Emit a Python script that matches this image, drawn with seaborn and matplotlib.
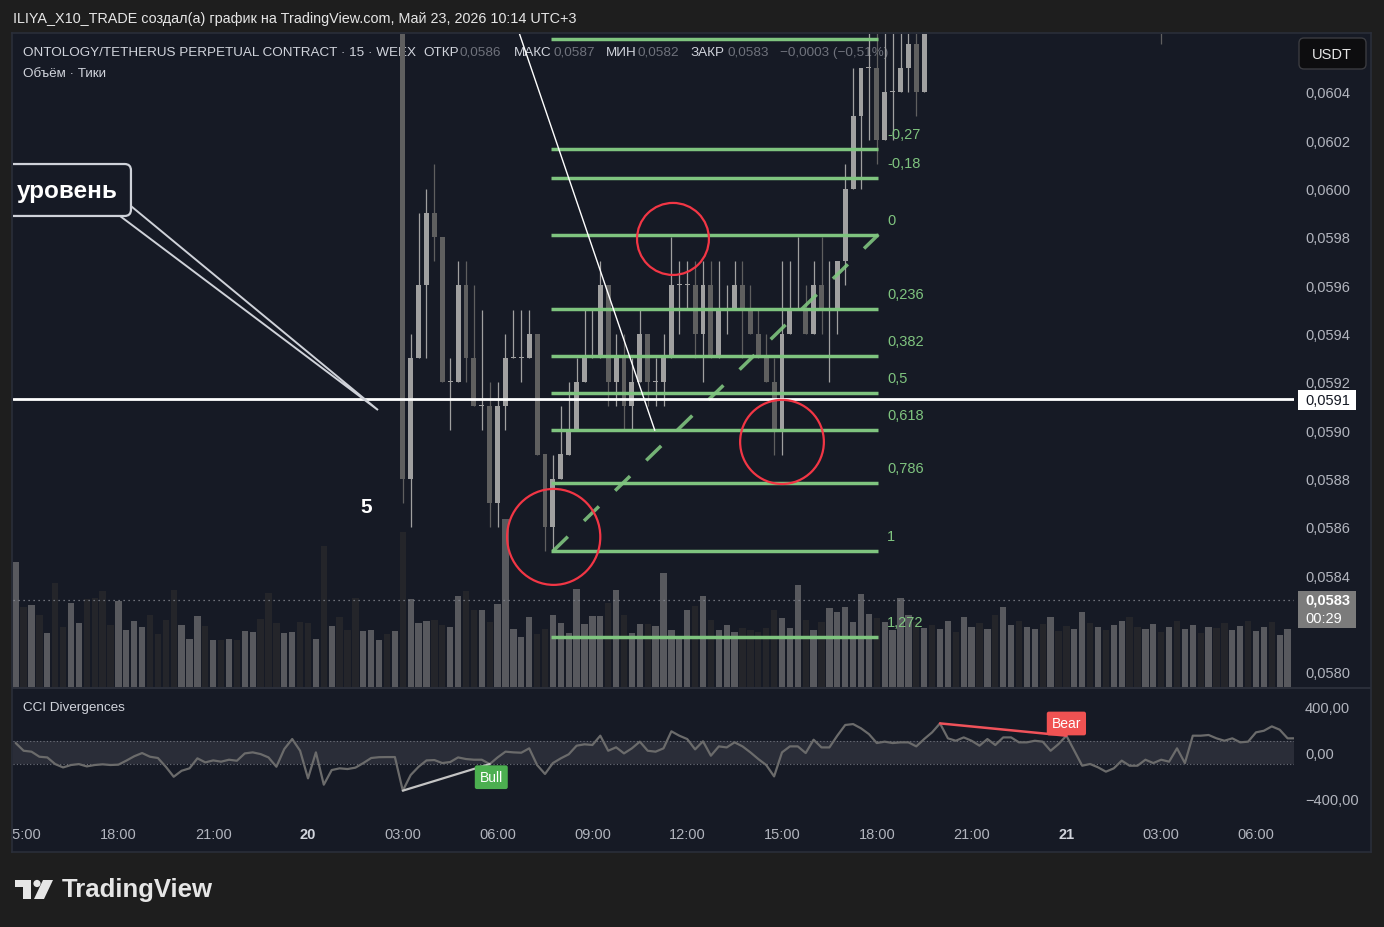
import numpy as np
import pandas as pd
import matplotlib
matplotlib.use("Agg")
import matplotlib.pyplot as plt
import seaborn as sns
from matplotlib.patches import Rectangle, Ellipse, FancyBboxPatch, Polygon, Circle

sns.set_theme(style="dark")
plt.rcParams['font.family'] = ['Liberation Sans', 'DejaVu Sans']

# ---------------- DATA (15-minute bars, bar 0 = 20 May 00:00) ----------------
vol_first_bar = -37
volume = [125, 80, 82, 72, 54, 104, 60, 84, 64, 88,
          89, 96, 62, 86, 57, 66, 60, 72, 53, 67,
          97, 62, 48, 71, 61, 47, 47, 48, 47, 56,
          55, 68, 94, 64, 54, 55, 65, 64, 48, 141,
          61, 70, 57, 89, 56, 57, 47, 53, 56, 155,
          88, 64, 66, 67, 62, 60, 91, 96, 77, 77,
          65, 83, 168, 58, 50, 70, 53, 58, 72, 64,
          54, 98, 63, 71, 71, 84, 97, 72, 54, 63,
          63, 61, 114, 57, 51, 77, 81,
          91, 67, 57, 62, 55, 59, 57, 55, 59, 77,
          69, 59, 102, 67, 57, 65, 79, 75, 80, 65,
          93, 73, 69, 65, 57, 89, 72, 65, 59,
          62, 58, 66, 55, 70, 60, 64, 58, 72, 80,
          62, 66, 60, 58, 63, 70, 56, 61, 58, 75,
          64, 60, 57, 62, 66, 70, 60, 58, 63, 55,
          60, 66, 58, 62, 54, 60, 59, 64, 57, 61,
          66, 56, 60, 65, 52, 58]
vol_up = [1, 0, 1, 0, 1, 0, 0, 1, 1, 0, 0, 0, 0, 1, 1, 1, 1, 0, 0, 0,
          0, 1, 1, 1, 0, 1, 0, 1, 0, 1, 1, 0, 0, 0, 1, 1, 0, 0, 1, 0,
          1, 0, 0, 0, 1, 1, 1, 0, 1, 0, 1, 1, 1, 0, 0, 1, 1, 0, 0, 1,
          0, 1, 1, 1, 1, 1, 0, 0, 1, 1, 1, 1, 1, 1, 1, 0, 1, 0, 1, 1,
          0, 1, 1, 1, 1, 1, 0,
          1, 0, 1, 1, 1, 0, 0, 0, 0, 0, 1, 1, 1, 0, 1, 0, 1, 1, 1, 1,
          1, 1, 0, 1, 1, 1, 1, 0, 1,
          0, 1, 1, 0, 1, 1, 0, 1, 0, 1, 1, 0, 1, 1, 0, 1, 0, 0, 1, 1,
          0, 1, 0, 1, 1, 0, 0, 1, 1, 0, 1, 0, 1, 1, 0, 1, 0, 0, 1, 1,
          0, 1, 1, 0, 1, 1]

cci_first_bar = -37
cci = [85, 18, 10, -34, -40, -98, -127, -106, -98, -118,
       -106, -100, -106, -103, -68, -30, -2, -34, -45, -121,
       -208, -156, -135, -48, -83, -66, -77, -60, -69, -5,
       4, -11, -40, -121, 33, 120, 18, -222, 4, -277,
       -150, -135, -141, -129, -89, -45, -38, -37, -37, -329,
       -193, -121, -66, -63, -89, -80, -40, -54, -60, -60,
       -98, -40, 10, 4, 1, 39, -106, -184, -89, -48,
       -13, 62, 74, 68, 149, 18, 48, -5, 39, 97,
       18, 10, 39, 187, 149, 120, 30, 100, -25, 56,
       47, 91, 56, 4, -54, -106, -205, 4, 56, 56,
       -2, 114, 47, 47, 149, 242, 250, 213, 163, 85,
       97, 85, 91, 91, 56, 120, 178, 256, 126, 105,
       134, 105, 62, 120, 68, 134, 134, 91, 91, 105,
       97, 18, 76, 149, 18, -112, -97, -126, -164, -135,
       -68, -112, -112, -60, -89, -60, -77, 39, -89, 149,
       149, 155, 126, 105, 126, 91, 97, 178, 192, 230,
       201, 126, 126]

candle_bar = list(range(12, 79)) + [108]
c_open = [0.0612, 0.0588, 0.0593, 0.0596, 0.0599, 0.0598, 0.0592, 0.0592, 0.0596, 0.0593,
          0.0591, 0.0591, 0.0587, 0.0591, 0.0593, 0.0593, 0.0593, 0.0594, 0.0589, 0.0586,
          0.0588, 0.0589, 0.0590, 0.0592, 0.0593, 0.0593, 0.0596, 0.0592, 0.0593, 0.0591,
          0.0592, 0.0594, 0.0592, 0.0592, 0.0593, 0.0596, 0.0596, 0.0596, 0.0594, 0.0596,
          0.0593, 0.0595, 0.0595, 0.0596, 0.0595, 0.0594, 0.0593, 0.0592, 0.0590, 0.0594,
          0.0595, 0.0595, 0.0594, 0.0596, 0.0595, 0.0595, 0.0597, 0.0600, 0.0603, 0.0605,
          0.0605, 0.0602, 0.0604, 0.0604, 0.0605, 0.0606, 0.0604, 0.0610]
c_high = [0.0613, 0.0594, 0.0599, 0.0600, 0.0601, 0.0598, 0.0593, 0.0597, 0.0597, 0.0596,
          0.0595, 0.0592, 0.0592, 0.0594, 0.0595, 0.0595, 0.0595, 0.0594, 0.0589, 0.0589,
          0.0591, 0.0592, 0.0593, 0.0595, 0.0595, 0.0597, 0.0596, 0.0594, 0.0594, 0.0593,
          0.0595, 0.0594, 0.0593, 0.0594, 0.0598, 0.0597, 0.0597, 0.0597, 0.0597, 0.0597,
          0.0597, 0.0596, 0.0597, 0.0597, 0.0596, 0.0595, 0.0594, 0.0593, 0.0597, 0.0597,
          0.0598, 0.0596, 0.0597, 0.0598, 0.0597, 0.0597, 0.0601, 0.0605, 0.0605, 0.0607,
          0.0607, 0.0607, 0.0607, 0.0607, 0.0607, 0.0607, 0.0609, 0.0612]
c_low = [0.0587, 0.0586, 0.0593, 0.0593, 0.0597, 0.0592, 0.0590, 0.0592, 0.0592, 0.0591,
         0.0590, 0.0586, 0.0586, 0.0590, 0.0593, 0.0592, 0.0593, 0.0589, 0.0585, 0.0585,
         0.0588, 0.0589, 0.0590, 0.0592, 0.0593, 0.0593, 0.0591, 0.0591, 0.0590, 0.0590,
         0.0592, 0.0591, 0.0591, 0.0591, 0.0593, 0.0594, 0.0595, 0.0593, 0.0592, 0.0593,
         0.0593, 0.0594, 0.0595, 0.0593, 0.0594, 0.0593, 0.0592, 0.0589, 0.0589, 0.0594,
         0.0595, 0.0594, 0.0594, 0.0594, 0.0592, 0.0594, 0.0596, 0.0600, 0.0600, 0.0602,
         0.0601, 0.0602, 0.0602, 0.0604, 0.0604, 0.0603, 0.0604, 0.0606]
c_close = [0.0588, 0.0593, 0.0596, 0.0599, 0.0598, 0.0592, 0.0592, 0.0596, 0.0593, 0.0591,
           0.0591, 0.0587, 0.0591, 0.0593, 0.0593, 0.0593, 0.0594, 0.0589, 0.0586, 0.0588,
           0.0589, 0.0590, 0.0592, 0.0593, 0.0593, 0.0596, 0.0592, 0.0593, 0.0591, 0.0592,
           0.0594, 0.0592, 0.0592, 0.0593, 0.0596, 0.0596, 0.0596, 0.0594, 0.0596, 0.0593,
           0.0595, 0.0595, 0.0596, 0.0595, 0.0594, 0.0593, 0.0592, 0.0590, 0.0594, 0.0595,
           0.0595, 0.0594, 0.0596, 0.0595, 0.0595, 0.0597, 0.0600, 0.0603, 0.0605, 0.0605,
           0.0602, 0.0604, 0.0604, 0.0605, 0.0606, 0.0604, 0.0608, 0.0609]

time_tick_bar = [-36, -24, -12, 0, 12, 24, 36, 48, 60, 72, 84, 96, 108, 120]
time_tick_label = ['15:00', '18:00', '21:00', '20', '03:00', '06:00', '09:00',
                   '12:00', '15:00', '18:00', '21:00', '21', '03:00', '06:00']
day_labels = ['20', '21']
price_ticks = [0.0580, 0.0584, 0.0586, 0.0588, 0.0590, 0.0592,
               0.0594, 0.0596, 0.0598, 0.0600, 0.0602, 0.0604]
cci_ticks = [400, 0, -400]
cci_tick_labels = ['400,00', '0,00', '\u2212400,00']

fib_levels = [-0.618, -0.27, -0.18, 0, 0.236, 0.382, 0.5, 0.618, 0.786, 1, 1.272]
fib_labels = ['-0,618', '-0,27', '-0,18', '0', '0,236', '0,382', '0,5', '0,618', '0,786', '1', '1,272']
fib_high, fib_low = 0.05981, 0.05850
fib_x0, fib_x1, fib_diag_x0 = 30.8, 72.2, 31.0
level_price = 0.05913
last_price = 0.0583
trend_bar = [25.0, 43.9]
trend_price = [0.06081, 0.05900]
circle_bar = [31.1, 46.2, 60.0]
circle_price = [0.058559, 0.059792, 0.058952]
circle_w = [11.8, 9.1, 10.6]
circle_h = [0.000397, 0.000298, 0.000348]
bull_bar, bull_cci = [12, 23], [-329, -98]
bear_bar, bear_cci = [80, 96], [256, 149]

# ---------------- STYLE ----------------
W, H = 1384, 928
BG = '#161a25'
OUT = '#1e1e1e'
AX_TXT = '#b2b5be'
GREEN = '#7fc47f'
RED = '#f23645'
C_UP, C_DN = '#a0a0a0', '#5f5f5f'
V_UP, V_DN = '#58595e', '#24252a'
px_per_price = 580 / 0.0024
XL = ((13 - 308) / 7.9, (1294 - 308) / 7.9)
YL = (0.0580 - 15 / px_per_price, 0.0604 + 58 / px_per_price)
LEG_FS = 9.7

fig = plt.figure(figsize=(W / 100, H / 100), dpi=100)
fig.patch.set_facecolor(OUT)


def frac(x0, y0, x1, y1):
    return [x0 / W, 1 - y1 / H, (x1 - x0) / W, (y1 - y0) / H]


def clean(ax):
    ax.grid(False)
    for s in ax.spines.values():
        s.set_visible(False)


# container background (pixel coordinates)
ax_bg = fig.add_axes(frac(12, 34, 1371, 853))
ax_bg.set_xlim(12, 1371)
ax_bg.set_ylim(853, 34)
ax_bg.set_facecolor(BG)
ax_bg.grid(False)
ax_bg.set_xticks([])
ax_bg.set_yticks([])
for s in ax_bg.spines.values():
    s.set_color('#2a2e39')
    s.set_linewidth(1.2)
ax_bg.plot([12, 1371], [689, 689], color='#2a2e39', lw=1.5)

leg_y = 53
ax_bg.text(23, leg_y, 'ONTOLOGY/TETHERUS PERPETUAL CONTRACT \u00b7 15 \u00b7 WEEX', color='#d1d4dc',
           fontsize=LEG_FS, va='center', ha='left')
for lab, val, xl, xv in [('ОТКР', '0,0586', 423, 459), ('МАКС', '0,0587', 514, 553),
                         ('МИН', '0,0582', 606, 638), ('ЗАКР', '0,0583', 691, 728)]:
    ax_bg.text(xl, leg_y, lab, color='#d1d4dc', fontsize=LEG_FS, va='center', ha='left')
    ax_bg.text(xv, leg_y, val, color='#6f727c', fontsize=LEG_FS, va='center', ha='left')
ax_bg.text(780, leg_y, '\u22120,0003 (\u22120,51%)', color='#6f727c', fontsize=LEG_FS, va='center', ha='left')
ax_bg.text(23, 74, 'Объём \u00b7 Тики', color='#d1d4dc', fontsize=LEG_FS, va='center', ha='left')
ax_bg.text(23, 708, 'CCI Divergences', color='#d1d4dc', fontsize=LEG_FS, va='center', ha='left')

# ---------------- VOLUME ----------------
ax_vol = fig.add_axes(frac(13, 35, 1294, 688))
ax_vol.set_facecolor('none')
vb = np.arange(vol_first_bar, vol_first_bar + len(volume))
ax_vol.bar(vb, volume, width=0.8, color=[V_UP if u else V_DN for u in vol_up], linewidth=0)
ax_vol.set_xlim(XL)
ax_vol.set_ylim(0, 653)
ax_vol.axis('off')

# ---------------- PRICE ----------------
ax_p = fig.add_axes(frac(13, 35, 1294, 688))
ax_p.set_facecolor('none')
clean(ax_p)
ax_p.set_xlim(XL)
ax_p.set_ylim(YL)
ax_p.set_xticks([])
ax_p.yaxis.tick_right()
ax_p.set_yticks(price_ticks)
ax_p.set_yticklabels([f'{t:.4f}'.replace('.', ',') for t in price_ticks])
ax_p.tick_params(axis='y', length=0, pad=8, labelsize=10.5, labelcolor=AX_TXT)

ax_p.axhline(last_price, color='#8a8d96', lw=0.9, ls=(0, (1, 3)), zorder=2)

cb = np.array(candle_bar)
o, hh, ll, c = map(np.array, (c_open, c_high, c_low, c_close))
up = c >= o
col = np.where(up, C_UP, C_DN)
ax_p.vlines(cb, ll, hh, colors=col, lw=0.9, zorder=3)
ax_p.bar(cb, np.maximum(np.abs(c - o), 5e-6), bottom=np.minimum(o, c), width=0.62,
         color=col, linewidth=0, zorder=4)

ax_p.axhline(level_price, color='white', lw=2, zorder=6)

rng = fib_high - fib_low
for lv, lab in zip(fib_levels, fib_labels):
    p = fib_high - lv * rng
    ax_p.hlines(p, fib_x0, fib_x1, color=GREEN, lw=2.5, zorder=5)
    ax_p.text(fib_x1 + 1.1, p + 15 / px_per_price, lab, color=GREEN, fontsize=10.5,
              va='center', ha='left', clip_on=True, zorder=5)
ax_p.plot([fib_diag_x0, fib_x1], [fib_low, fib_high], color=GREEN, lw=2.5,
          ls=(0, (6, 6.5)), alpha=0.9, zorder=5)

ax_p.plot(trend_bar, trend_price, color='white', lw=1.0, zorder=6)

for bx, py, w, h in zip(circle_bar, circle_price, circle_w, circle_h):
    ax_p.add_patch(Ellipse((bx, py), w, h, fill=False, ec=RED, lw=1.6, zorder=7))

# callout "уровень"
tail = Polygon([(-23.8, 0.059887), (8.86, 0.059084), (-22.41, 0.059928)], closed=False,
               fc=BG, ec='#cfd2d9', lw=1.4, zorder=7)
ax_p.add_patch(tail)
box = FancyBboxPatch((-45, 0.059887), -22.41 + 45, 0.060102 - 0.059887,
                     boxstyle='round,pad=0,rounding_size=0.8', mutation_aspect=3.27e-5,
                     fc=BG, ec='#cfd2d9', lw=1.6, zorder=7)
ax_p.add_patch(box)
ax_p.text(-36.84, 0.059994, 'уровень', color='white', fontsize=17.5, fontweight='bold',
          ha='left', va='center', zorder=8, clip_on=True)
ax_p.text(7.34, 0.058683, '5', color='white', fontsize=15, fontweight='bold',
          ha='center', va='center', zorder=8)

# ---------------- CCI ----------------
ax_c = fig.add_axes(frac(13, 690, 1294, 815))
ax_c.set_facecolor('none')
clean(ax_c)
ax_c.axhspan(-100, 100, color='#2a2d38', lw=0, zorder=1)
ax_c.axhline(100, color='#70737d', lw=0.8, ls=(0, (1, 2)), zorder=2)
ax_c.axhline(-100, color='#70737d', lw=0.8, ls=(0, (1, 2)), zorder=2)
cci_df = pd.DataFrame({'bar': np.arange(cci_first_bar, cci_first_bar + len(cci)), 'cci': cci})
sns.lineplot(data=cci_df, x='bar', y='cci', ax=ax_c, color='#6b6b6b', linewidth=1.6, zorder=3)
ax_c.plot(bull_bar, bull_cci, color='#c4c4c4', lw=1.6, zorder=4)
ax_c.plot(bear_bar, bear_cci, color='#f0525a', lw=1.8, zorder=4)
ax_c.text(bull_bar[1] + 0.2, -212, 'Bull', color='white', fontsize=10, ha='center', va='center', zorder=5,
          bbox=dict(boxstyle='round,pad=0.35,rounding_size=0.15', fc='#4caf50', ec='none'))
ax_c.text(bear_bar[1], 255, 'Bear', color='white', fontsize=10, ha='center', va='center', zorder=5,
          bbox=dict(boxstyle='round,pad=0.35,rounding_size=0.15', fc='#f05252', ec='none'))
ax_c.set_xlim(XL)
ax_c.set_ylim(-532, 555)
ax_c.set_xlabel('')
ax_c.set_ylabel('')
ax_c.set_xticks([])
ax_c.yaxis.tick_right()
ax_c.set_yticks(cci_ticks)
ax_c.set_yticklabels(cci_tick_labels)
ax_c.tick_params(axis='y', length=0, pad=8, labelsize=10.5, labelcolor=AX_TXT)

# ---------------- TIME AXIS ----------------
ax_t = fig.add_axes(frac(13, 815, 1294, 853))
ax_t.set_facecolor('none')
ax_t.set_xlim(XL)
ax_t.set_ylim(0, 1)
ax_t.axis('off')
for b, lab in zip(time_tick_bar, time_tick_label):
    bold = lab in day_labels
    ax_t.text(b, 0.47, lab, ha='center', va='center', fontsize=10.5,
              color='#d1d4dc' if bold else AX_TXT, fontweight='bold' if bold else 'normal',
              clip_on=True)

# ---------------- TOP OVERLAY (pixel coordinates) ----------------
ax_top = fig.add_axes([0, 0, 1, 1])
ax_top.set_facecolor('none')
ax_top.set_xlim(0, W)
ax_top.set_ylim(H, 0)
ax_top.axis('off')

ax_top.text(13, 19, 'ILIYA_X10_TRADE создал(а) график на TradingView.com, Май 23, 2026 10:14 UTC+3',
            color='#e6e6e6', fontsize=10.4, ha='left', va='center')

ax_top.add_patch(FancyBboxPatch((1299, 39), 67, 31, boxstyle='round,pad=0,rounding_size=5',
                                fc='#0d0d0f', ec='#3a3b40', lw=1))
ax_top.text(1332, 55, 'USDT', color='#e6e6e6', fontsize=10.5, ha='center', va='center')

ax_top.add_patch(Rectangle((1298, 391), 58, 20, fc='white', ec='none'))
ax_top.text(1305, 401.5, f'{level_price:.4f}'.replace('.', ','), color='#131722', fontsize=10.5,
            ha='left', va='center')

ax_top.add_patch(Rectangle((1298, 592), 58, 37, fc='#7b7b7b', ec='none'))
ax_top.text(1305, 601, f'{last_price:.4f}'.replace('.', ','), color='white', fontsize=10.5,
            fontweight='bold', ha='left', va='center')
ax_top.text(1305, 619, '00:29', color='white', fontsize=10.5, ha='left', va='center')

# TradingView logo
LOGO = '#e6e6e6'
ax_top.add_patch(Rectangle((15, 881), 16, 7, fc=LOGO, ec='none'))
ax_top.add_patch(Rectangle((23, 881), 8, 19, fc=LOGO, ec='none'))
ax_top.add_patch(Circle((37, 884.5), 3.6, fc=LOGO, ec='none'))
ax_top.add_patch(Polygon([(43, 881), (53, 881), (44, 900), (34, 900)], closed=True, fc=LOGO, ec='none'))
ax_top.text(62, 890, 'TradingView', color=LOGO, fontsize=18.5, fontweight='bold', ha='left', va='center')

fig.savefig('out.png', dpi=100, facecolor=fig.get_facecolor())
